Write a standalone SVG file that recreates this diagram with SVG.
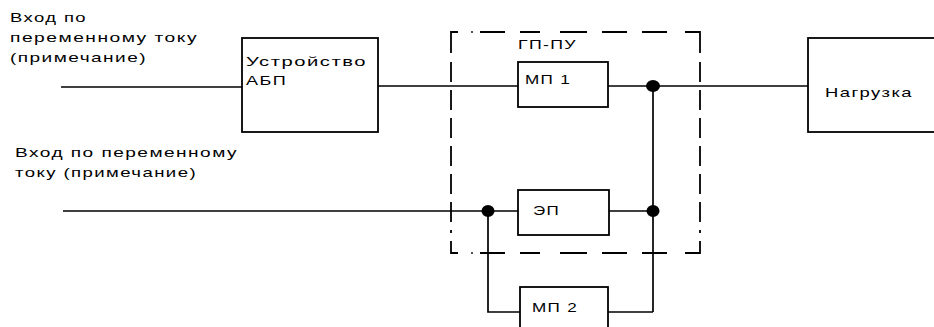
<svg xmlns="http://www.w3.org/2000/svg" width="934" height="327" viewBox="0 0 934 327">
<style>
.box{fill:none;stroke:#000;stroke-width:1.8}
.w{stroke:#000;stroke-width:1.7;fill:none}
.d{stroke:#000;stroke-width:1.8;fill:none}
.dot{fill:#000}
text{font-family:"Liberation Sans",Arial,sans-serif;font-size:13px;letter-spacing:1px;fill:#000}
</style>
<rect width="934" height="327" fill="#fff"/>
<g id="label-input1">
<text x="10" y="22" textLength="77" lengthAdjust="spacingAndGlyphs">Вход по</text>
<text x="10" y="42" textLength="188" lengthAdjust="spacingAndGlyphs">переменному току</text>
<text x="10" y="62" textLength="137" lengthAdjust="spacingAndGlyphs">(примечание)</text>
</g>
<g id="label-input2">
<text x="15" y="157" textLength="223" lengthAdjust="spacingAndGlyphs">Вход по переменному</text>
<text x="15" y="177" textLength="182" lengthAdjust="spacingAndGlyphs">току (примечание)</text>
</g>
<g id="ups">
<rect class="box" x="242" y="38" width="136" height="94"/>
<text x="246" y="66" textLength="121" lengthAdjust="spacingAndGlyphs">Устройство</text>
<text x="246" y="85" textLength="41" lengthAdjust="spacingAndGlyphs">АБП</text>
</g>
<g id="gp-pu">
<path class="d" d="M451,53 V32 H458"/>
<circle cx="472" cy="32" r="0.9" class="dot"/>
<path class="d" d="M480,32 H505 M520,32 H540 M560,32 H587 M602,32 H627 M642,32 H667 M685,32 H700 V53"/>
<path class="d" d="M451,62 V233" stroke-dasharray="20 8"/>
<path class="d" d="M700,62 V233" stroke-dasharray="20 8"/>
<path class="d" d="M451,241 V253 H458"/>
<circle cx="472" cy="253" r="0.9" class="dot"/>
<path class="d" d="M480,253 H505 M520,253 H540 M560,253 H587 M602,253 H627 M642,253 H667 M685,253 H700 V241"/>
<text x="518" y="49" textLength="59" lengthAdjust="spacingAndGlyphs">ГП-ПУ</text>
</g>
<g id="mp1">
<rect class="box" x="518" y="62" width="90" height="45"/>
<text x="525" y="84" textLength="46" lengthAdjust="spacingAndGlyphs">МП 1</text>
</g>
<g id="ep">
<rect class="box" x="518" y="190" width="91" height="45"/>
<text x="533" y="215" textLength="27" lengthAdjust="spacingAndGlyphs">ЭП</text>
</g>
<g id="mp2">
<rect class="box" x="520" y="287" width="88" height="60"/>
<text x="532" y="312" textLength="46" lengthAdjust="spacingAndGlyphs">МП 2</text>
</g>
<g id="load">
<rect class="box" x="808" y="38" width="140" height="94"/>
<text x="825" y="97" textLength="88" lengthAdjust="spacingAndGlyphs">Нагрузка</text>
</g>
<g id="connectors">
<path class="w" d="M61,87 H242"/>
<path class="w" d="M378,86 H518"/>
<path class="w" d="M608,86 H808"/>
<path class="w" d="M653,86 V312"/>
<path class="w" d="M63,211 H518"/>
<path class="w" d="M609,211 H653"/>
<path class="w" d="M488,211 V312 H520"/>
<path class="w" d="M608,312 H653"/>
<ellipse class="dot" cx="653" cy="86" rx="7" ry="6"/>
<ellipse class="dot" cx="488" cy="211" rx="6.5" ry="6"/>
<ellipse class="dot" cx="653" cy="211" rx="6.5" ry="6"/>
</g>
</svg>
